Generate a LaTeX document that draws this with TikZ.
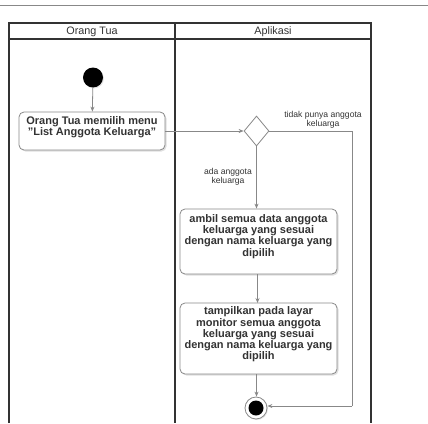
\documentclass[tikz,border=0pt]{standalone}
\usepackage{fontspec}
\setmainfont{Liberation Sans}
\usetikzlibrary{arrows.meta,shapes.geometric,shadows}
\definecolor{txt}{HTML}{333333}
\definecolor{ln}{HTML}{888888}
\definecolor{fr}{HTML}{333333}
\begin{document}
\begin{tikzpicture}[x=1pt,y=-1pt,
  frame/.style={draw=fr,line width=1.3pt},
  actbox/.style={draw=ln,line width=0.8pt,fill=white,rounded corners=5pt,
    inner sep=0pt,drop shadow={opacity=0.25,shadow xshift=1.5pt,shadow yshift=-1.5pt}},
  acttext/.style={text=txt,font=\fontsize{11}{11.2}\selectfont\bfseries,align=center,inner sep=0pt},
  hdr/.style={text=txt,font=\fontsize{10.8}{12}\selectfont,inner sep=0pt},
  guard/.style={text=txt,font=\fontsize{8.6}{9}\selectfont,align=center,inner sep=0pt},
  flow/.style={draw=ln,line width=0.8pt,-{Stealth[length=5pt,width=4pt]}},
]
\useasboundingbox (0,0) rectangle (428,423);
% top rule
\draw[ln,line width=0.8pt] (0,5) -- (428,5);
% swimlane frame
\draw[frame] (9,423) -- (9,23) -- (371,23) -- (371,423);
\draw[frame] (9,39) -- (371,39);
\draw[frame] (175,23) -- (175,423);
\node[hdr] (h1) at (92,32) {Orang Tua};
\node[hdr] (h2) at (273,32) {Aplikasi};
% start
\node[circle,fill=black,minimum size=20pt,inner sep=0pt,
  drop shadow={opacity=0.2,shadow xshift=1pt,shadow yshift=-1pt}] (start) at (93,77.5) {};
% box 1
\node[actbox,minimum width=146pt,minimum height=38pt] (b1) at (92,131) {};
\node[acttext] (b1t) at (92,127.5) {Orang Tua memilih menu\\"List Anggota Keluarga"};
% decision
\node[diamond,draw=ln,line width=0.8pt,fill=white,minimum width=25pt,minimum height=30pt,
  inner sep=0pt,aspect=0.83] (dec) at (256.5,131) {};
% box 2
\node[actbox,minimum width=157pt,minimum height=65pt] (b2) at (258.5,241.5) {};
\node[acttext] (b2t) at (258.5,236.5) {ambil semua data anggota\\keluarga yang sesuai\\dengan nama keluarga yang\\dipilih};
% box 3
\node[actbox,minimum width=157pt,minimum height=71pt] (b3) at (258.5,338.5) {};
\node[acttext] (b3t) at (258.5,334.5) {tampilkan pada layar\\monitor semua anggota\\keluarga yang sesuai\\dengan nama keluarga yang\\dipilih};
% end
\node[circle,draw=ln,line width=0.8pt,fill=white,minimum size=22pt,inner sep=0pt,
  drop shadow={opacity=0.2,shadow xshift=1pt,shadow yshift=-1pt}] (end) at (256,408) {};
\node[circle,fill=black,minimum size=15pt,inner sep=0pt] (endin) at (256,408) {};
% guards
\node[guard] (g1) at (323,119.5) {tidak punya anggota\\keluarga};
\node[guard] (g2) at (228,176.5) {ada anggota\\keluarga};
% corners of right branch
\coordinate (c1) at (352,131);
\coordinate (c2) at (352,406);
% flows
\draw[flow] (start) -- (b1);
\draw[flow] (b1.east) -- (dec.west);
\draw[flow] (dec.south) -- (dec.south |- b2.north);
\draw[flow] (b2.south -| 257.5,0) -- (257.5,303);
\draw[flow] (256.5,374) -- (end.north -| 256.5,0);
\draw[ln,line width=0.8pt] (dec.east) -- (c1) -- (c2);
\draw[flow] (c2) -- (end.east |- c2);
\end{tikzpicture}
\end{document}
